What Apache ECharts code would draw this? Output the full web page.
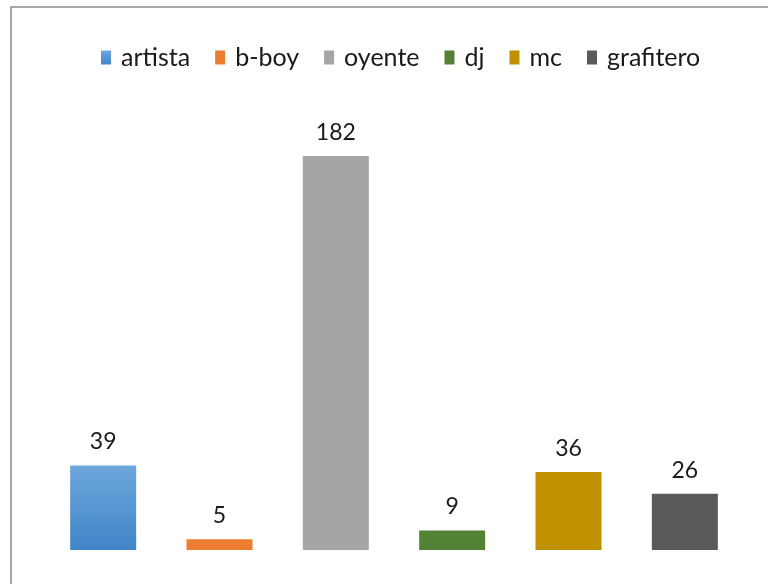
<!DOCTYPE html>
<html lang="es">
<head>
    <meta charset="UTF-8">
    <script src="https://cdn.jsdelivr.net/npm/echarts@6.0.0/dist/echarts.min.js"></script>
    <style>
        html, body { margin: 0; padding: 0; background: #fff; }
        #chart { width: 768px; height: 584px; }
    </style>
</head>
<body>
    <div id="chart"></div>
    <script type="text/javascript">
        var categories = ['artista', 'b-boy', 'oyente', 'dj', 'mc', 'grafitero'];
        var values = [39, 5, 182, 9, 36, 26];
        var colors = [
            new echarts.graphic.LinearGradient(0, 0, 0, 1, [
                { offset: 0, color: '#6ea7dd' },
                { offset: 1, color: '#4085c7' }
            ]),
            '#ed7d31', '#a5a5a5', '#548235', '#bf9000', '#595959'
        ];

        var chart = echarts.init(document.getElementById('chart'));

        // one series per category so every bar gets its own legend entry
        var series = categories.map(function (name, i) {
            return {
                name: name,
                type: 'bar',
                stack: 'all',
                barWidth: 66,
                itemStyle: { color: colors[i] },
                label: {
                    show: true,
                    position: 'top',
                    distance: 12,
                    fontFamily: 'Lato',
                    fontSize: 23,
                    color: '#1a1a1a'
                },
                data: categories.map(function (c, j) { return j === i ? values[i] : '-'; })
            };
        });

        var option = {
            animation: false,
            graphic: [{
                type: 'rect',
                shape: { x: 11, y: 7, width: 790, height: 620 },
                style: { fill: 'none', stroke: '#8c8c8c', lineWidth: 1.5 }
            }],
            legend: {
                left: 96,
                top: 40,
                itemWidth: 10,
                itemHeight: 14,
                itemGap: 25,
                icon: 'rect',
                textStyle: {
                    fontFamily: 'Lato',
                    fontSize: 25,
                    color: '#1a1a1a',
                    padding: [0, 0, 0, 5]
                },
                data: categories
            },
            grid: {
                left: 45,
                top: 156,
                width: 698,
                height: 394
            },
            xAxis: {
                type: 'category',
                data: categories,
                axisLine: { show: false },
                axisTick: { show: false },
                axisLabel: { show: false }
            },
            yAxis: {
                type: 'value',
                min: 0,
                max: 182,
                show: false,
                splitLine: { show: false }
            },
            series: series
        };
        chart.setOption(option);
    </script>
</body>
</html>
